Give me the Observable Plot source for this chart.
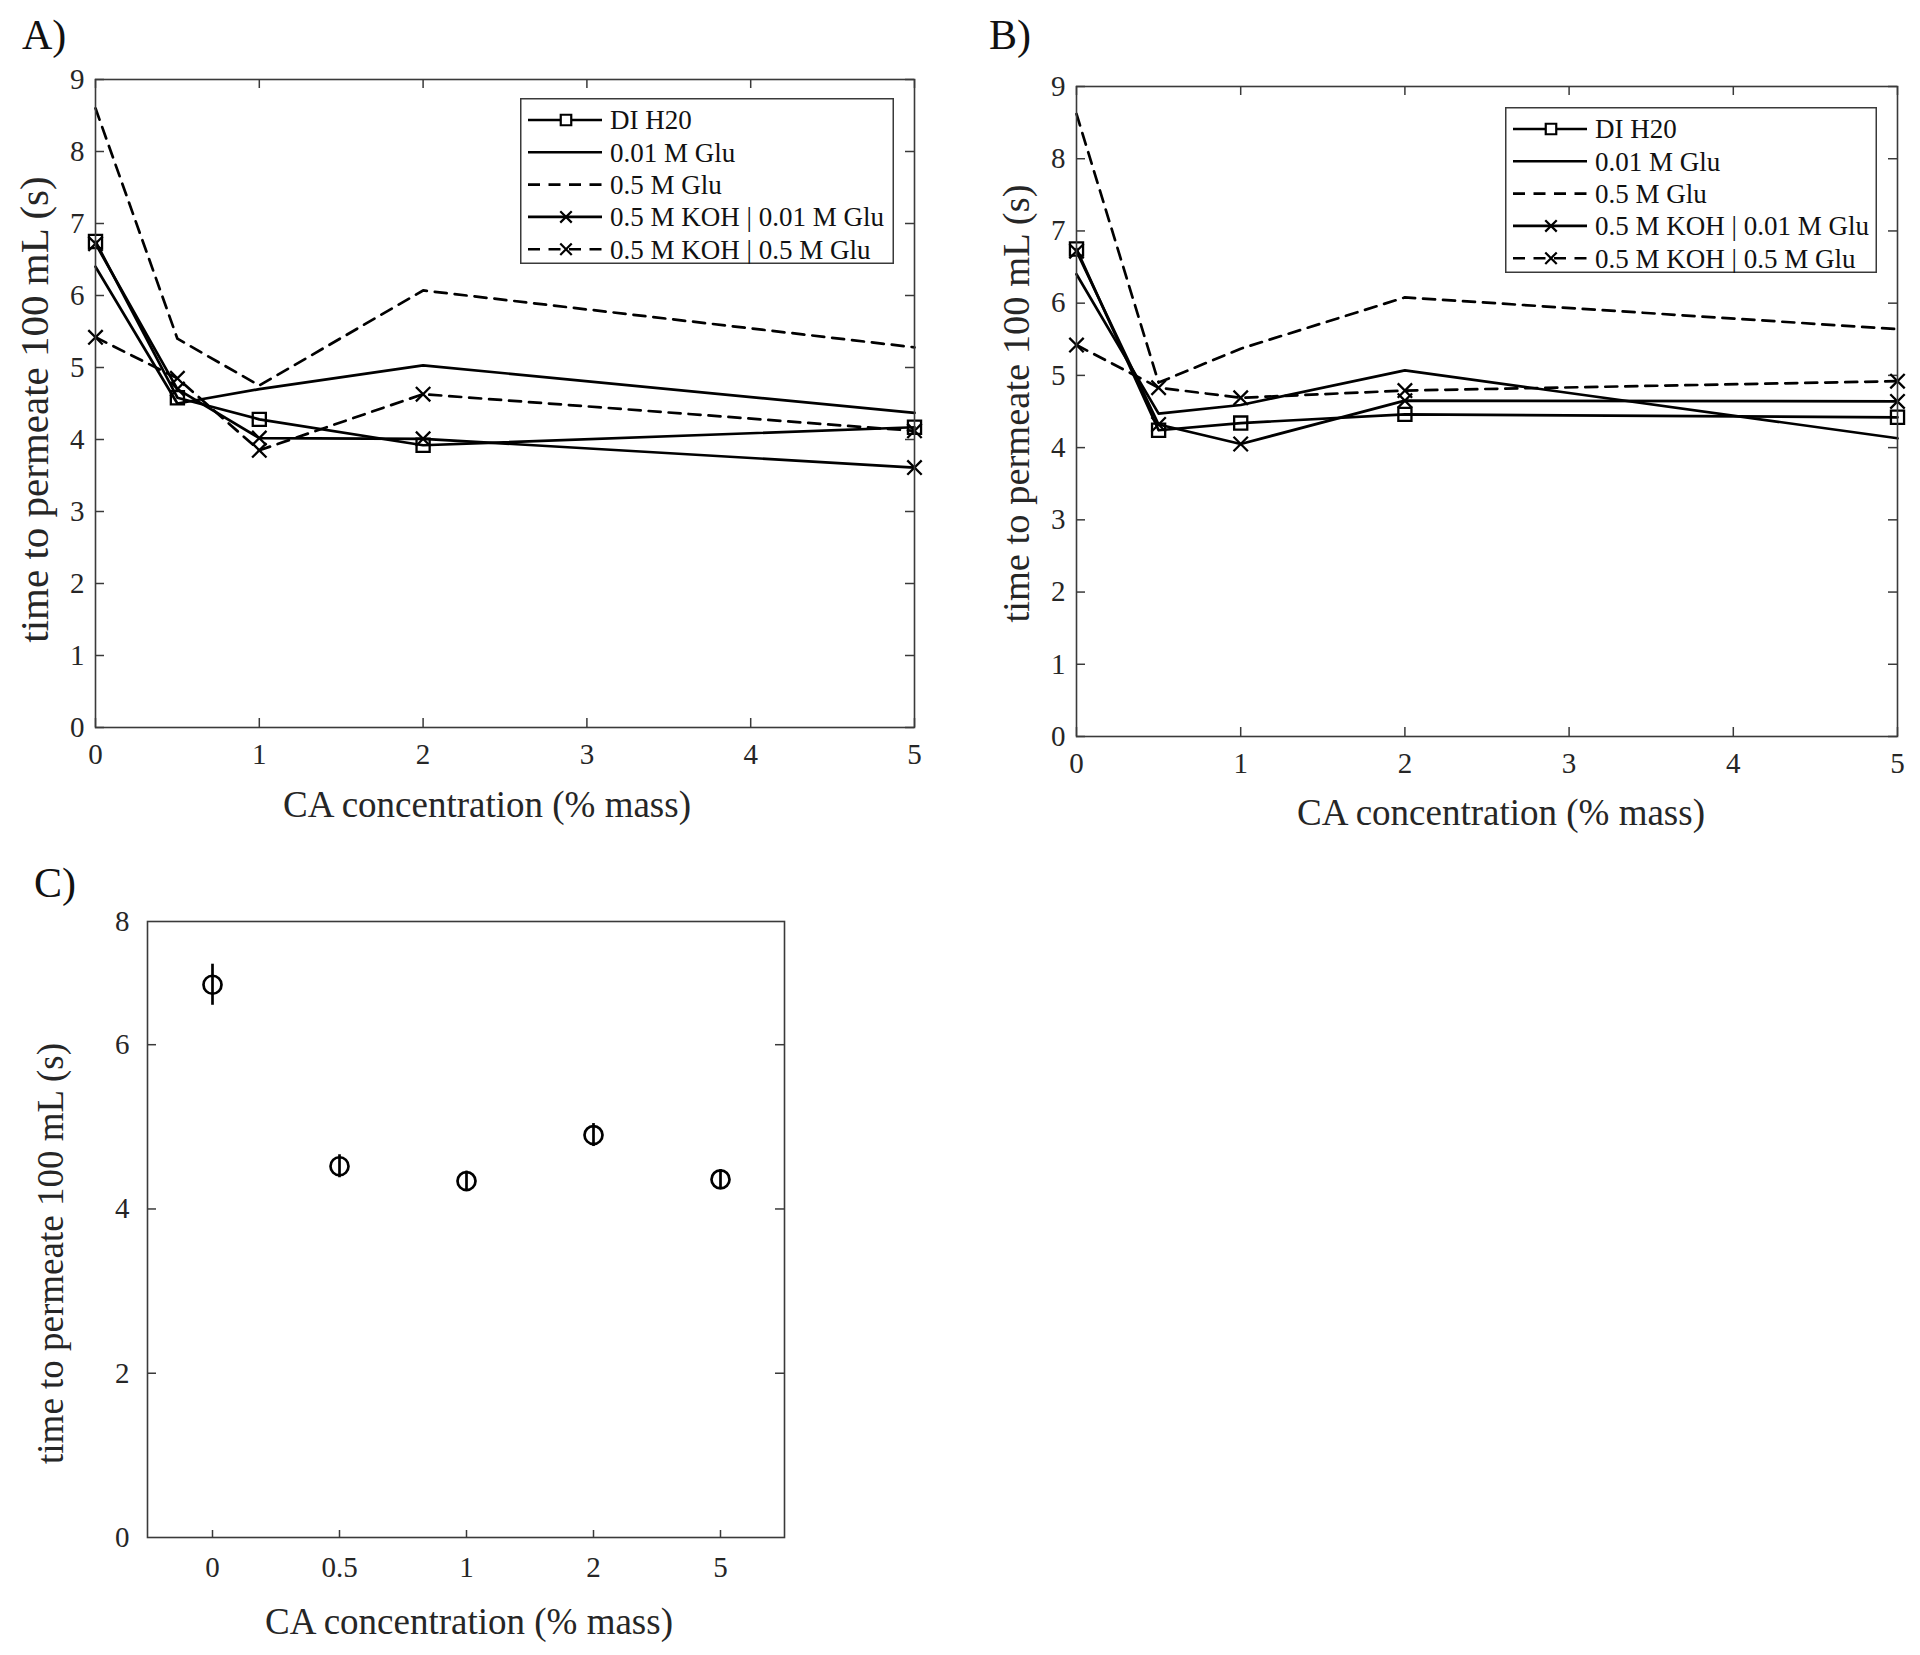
<!DOCTYPE html>
<html>
<head>
<meta charset="utf-8">
<script src="https://cdn.jsdelivr.net/npm/d3@7"></script>
<script src="https://cdn.jsdelivr.net/npm/@observablehq/plot@0.6"></script>
<style>
  body { margin: 0; background: #fff; }
  #fig { position: relative; width: 1920px; height: 1655px; background: #fff;
         font-family: "Liberation Serif", "Times New Roman", serif; color: #262626; }
  .panel { position: absolute; }
  .panel svg { overflow: visible; }
  .plabel { position: absolute; font-size: 42px; line-height: 42px; color: #111; }
  .legend { position: absolute; }
</style>
</head>
<body>
<div id="fig"></div>
<script>
// ---------------- data ----------------
const xValues = [0, 0.5, 1, 2, 5];
const seriesNames = ["DI H20", "0.01 M Glu", "0.5 M Glu", "0.5 M KOH | 0.01 M Glu", "0.5 M KOH | 0.5 M Glu"];

// Panel A (one array per series, same order as seriesNames)
const A_DI          = [6.75, 4.58, 4.28, 3.92, 4.17];
const A_Glu001      = [6.40, 4.50, 4.70, 5.03, 4.37];
const A_Glu05       = [8.60, 5.40, 4.75, 6.07, 5.28];
const A_KOH_Glu001  = [6.72, 4.70, 4.02, 4.01, 3.61];
const A_KOH_Glu05   = [5.42, 4.85, 3.85, 4.63, 4.12];

// Panel B
const B_DI          = [6.75, 4.24, 4.34, 4.46, 4.42];
const B_Glu001      = [6.40, 4.47, 4.59, 5.07, 4.13];
const B_Glu05       = [8.62, 4.90, 5.37, 6.08, 5.64];
const B_KOH_Glu001  = [6.72, 4.32, 4.05, 4.65, 4.64];
const B_KOH_Glu05   = [5.42, 4.83, 4.69, 4.79, 4.92];

const xTicksAB = [0, 1, 2, 3, 4, 5];
const yTicksAB = [0, 1, 2, 3, 4, 5, 6, 7, 8, 9];

// Panel C
const C_categories = ["0", "0.5", "1", "2", "5"];
const C_mean = [6.73, 4.52, 4.34, 4.90, 4.36];
const C_err  = [0.25, 0.14, 0.12, 0.14, 0.12];
const C_yTicks = [0, 2, 4, 6, 7.5];
const C_yTickLabels = ["0", "2", "4", "6", "8"];

const xTitle = "CA concentration (% mass)";
const yTitle = "time to permeate 100 mL (s)";
const panelLabels = ["A)", "B)", "C)"];

// ---------------- styles ----------------
const seriesStyle = [
  {dash: null,   marker: "square"},
  {dash: null,   marker: null},
  {dash: "12,8", marker: null},
  {dash: null,   marker: "times"},
  {dash: "12,8", marker: "times"}
];
const FONT = '"Liberation Serif", "Times New Roman", serif';
const AXIS = "#3a3a3a";
const TEXT = "#262626";
const TICKFONT = "29px";
const fig = d3.select("#fig");

function toRows(arrays) {
  return arrays.flatMap((vals, i) => vals.map((v, j) => ({idx: i, series: seriesNames[i], x: xValues[j], y: v})));
}

function markerR(m) { return m === "square" ? 7.4 : 6.6; }

function linePanel(arrays, m) {
  const data = toRows(arrays);
  const fw = m.width - m.left - m.right, fh = m.height - m.top - m.bottom;
  const tl = 9;
  const seriesMarks = [];
  seriesNames.forEach((name, i) => {
    const d = data.filter(r => r.idx === i);
    const st = seriesStyle[i];
    seriesMarks.push(Plot.line(d, {x: "x", y: "y", stroke: "#000", strokeWidth: 2.7,
      strokeDasharray: st.dash || null}));
    if (st.marker) seriesMarks.push(Plot.dot(d, {x: "x", y: "y", symbol: st.marker, r: markerR(st.marker),
      stroke: "#000", strokeWidth: 2.3, fill: "none"}));
  });
  return Plot.plot({
    width: m.width, height: m.height,
    marginLeft: m.left, marginRight: m.right, marginTop: m.top, marginBottom: m.bottom,
    x: {domain: [0, 5]},
    y: {domain: [0, 9]},
    style: {fontFamily: FONT, fontSize: TICKFONT, color: TEXT, background: "transparent"},
    marks: [
      Plot.tickY(yTicksAB, {y: d => d, insetRight: fw - tl, stroke: AXIS, strokeWidth: 1.5}),
      Plot.tickY(yTicksAB, {y: d => d, insetLeft: fw - tl, stroke: AXIS, strokeWidth: 1.5}),
      Plot.tickX(xTicksAB, {x: d => d, insetTop: fh - tl, stroke: AXIS, strokeWidth: 1.5}),
      Plot.tickX(xTicksAB, {x: d => d, insetBottom: fh - tl, stroke: AXIS, strokeWidth: 1.5}),
      Plot.axisX({ticks: xTicksAB, tickSize: 0, tickPadding: 16, label: null, fontSize: 29, tickFormat: d => String(d)}),
      Plot.axisY({ticks: yTicksAB, tickSize: 0, tickPadding: 11, label: null, fontSize: 29, tickFormat: d => String(d)}),
      ...seriesMarks,
      Plot.frame({stroke: AXIS, strokeWidth: 1.6}),
      Plot.text([xTitle], {text: d => d, frameAnchor: "bottom", textAnchor: "middle", lineAnchor: "middle",
        dy: m.xTitleDy, dx: m.xTitleDx, fontSize: 37, fill: TEXT}),
      Plot.text([yTitle], {text: d => d, frameAnchor: "left", textAnchor: "middle", lineAnchor: "middle",
        dx: m.yTitleDx, dy: m.yTitleDy || 0, rotate: -90, fontSize: m.yTitleSize, fill: TEXT})
    ]
  });
}

function addPanel(svg, left, top) {
  fig.append("div").attr("class", "panel").style("left", left + "px").style("top", top + "px")
    .node().appendChild(svg);
}

function addLegend(left, top, w) {
  const h = 166, y0 = 22, step = 32.3;
  const svg = fig.append("svg").attr("class", "legend")
    .style("left", left + "px").style("top", top + "px")
    .attr("width", w).attr("height", h);
  svg.append("rect").attr("x", 0.75).attr("y", 0.75).attr("width", w - 1.5).attr("height", h - 1.5)
    .attr("fill", "#fff").attr("stroke", AXIS).attr("stroke-width", 1.5);
  seriesNames.forEach((name, i) => {
    const y = y0 + i * step, st = seriesStyle[i];
    svg.append("line").attr("x1", 8).attr("x2", 82).attr("y1", y).attr("y2", y)
      .attr("stroke", "#000").attr("stroke-width", 2.6)
      .attr("stroke-dasharray", st.dash ? "12,8.5" : null);
    if (st.marker) {
      const r = markerR(st.marker) * 0.8;
      const sym = st.marker === "square" ? d3.symbolSquare : d3.symbolTimes;
      svg.append("path").attr("d", d3.symbol(sym, r * r * Math.PI)())
        .attr("transform", `translate(46,${y})`)
        .attr("fill", st.marker === "square" ? "#fff" : "none").attr("stroke", "#000").attr("stroke-width", 2.2);
    }
    svg.append("text").attr("x", 90).attr("y", y).attr("dy", "0.35em")
      .attr("font-family", FONT).attr("font-size", 27).attr("fill", "#111").text(name);
  });
}

function addLabel(text, left, top) {
  fig.append("div").attr("class", "plabel").style("left", left + "px").style("top", top + "px").text(text);
}

// ---------------- panel A ----------------
addPanel(linePanel([A_DI, A_Glu001, A_Glu05, A_KOH_Glu001, A_KOH_Glu05],
  {width: 960, height: 840, left: 95, right: 46, top: 79, bottom: 113,
   xTitleDy: 78, xTitleDx: -18, yTitleDx: -61, yTitleDy: 6, yTitleSize: 41}), 0, 0);
addLegend(520, 98, 374);
addLabel(panelLabels[0], 22, 14);

// ---------------- panel B ----------------
addPanel(linePanel([B_DI, B_Glu001, B_Glu05, B_KOH_Glu001, B_KOH_Glu05],
  {width: 960, height: 840, left: 116, right: 23, top: 86, bottom: 104,
   xTitleDy: 77, xTitleDx: 14, yTitleDx: -60, yTitleDy: -8, yTitleSize: 38.5}), 960, 0);
addLegend(1505, 107, 372);
addLabel(panelLabels[1], 989, 14);

// ---------------- panel C ----------------
(function () {
  const m = {width: 960, height: 815, left: 147, right: 176, top: 81, bottom: 118};
  const fw = m.width - m.left - m.right, fh = m.height - m.top - m.bottom, tl = 9;
  const cRows = C_categories.map((c, i) => ({cat: c, mean: C_mean[i], err: C_err[i]}));
  const inner = [2, 4, 6];
  const svg = Plot.plot({
    width: m.width, height: m.height,
    marginLeft: m.left, marginRight: m.right, marginTop: m.top, marginBottom: m.bottom,
    x: {type: "point", domain: C_categories, padding: 0.5},
    y: {domain: [0, 7.5]},
    style: {fontFamily: FONT, fontSize: TICKFONT, color: TEXT, background: "transparent"},
    marks: [
      Plot.tickY(inner, {y: d => d, insetRight: fw - tl, stroke: AXIS, strokeWidth: 1.5}),
      Plot.tickY(inner, {y: d => d, insetLeft: fw - tl, stroke: AXIS, strokeWidth: 1.5}),
      Plot.tickX(C_categories, {x: d => d, insetTop: fh - 7, stroke: AXIS, strokeWidth: 1.5}),
      Plot.axisX({tickSize: 0, tickPadding: 19, label: null, fontSize: 29}),
      Plot.axisY({ticks: C_yTicks, tickSize: 0, tickPadding: 18, label: null, fontSize: 29,
        tickFormat: d => C_yTickLabels[C_yTicks.indexOf(d)]}),
      Plot.ruleX(cRows, {x: "cat", y1: d => d.mean - d.err, y2: d => d.mean + d.err, stroke: "#000", strokeWidth: 2.7}),
      Plot.dot(cRows, {x: "cat", y: "mean", r: 9, stroke: "#000", strokeWidth: 2.7, fill: "none"}),
      Plot.frame({stroke: AXIS, strokeWidth: 1.6}),
      Plot.text([xTitle], {text: d => d, frameAnchor: "bottom", textAnchor: "middle", lineAnchor: "middle",
        dy: 85, dx: 3, fontSize: 37, fill: TEXT}),
      Plot.text([yTitle], {text: d => d, frameAnchor: "left", textAnchor: "middle", lineAnchor: "middle",
        dx: -96, dy: 24, rotate: -90, fontSize: 37, fill: TEXT})
    ]
  });
  addPanel(svg, 0, 840);
})();
addLabel(panelLabels[2], 34, 862);
</script>
</body>
</html>
